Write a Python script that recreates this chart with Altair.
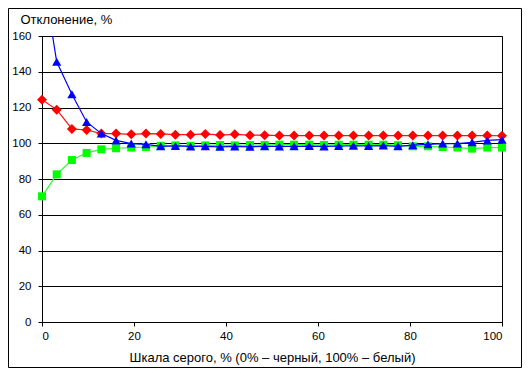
import altair as alt
import pandas as pd

# Gray scale steps, %
x_vals = [0, 3.2, 6.5, 9.7, 12.9, 16.1, 19.4, 22.6, 25.8, 29.0, 32.3, 35.5,
          38.7, 41.9, 45.2, 48.4, 51.6, 54.8, 58.1, 61.3, 64.5, 67.7, 71.0,
          74.2, 77.4, 80.6, 83.9, 87.1, 90.3, 93.5, 96.8, 100]

red_vals = [124.4, 118.8, 108.0, 107.4, 105.4, 105.4, 105.0, 105.4, 105.2,
            104.8, 104.8, 105.2, 104.6, 105.0, 104.5, 104.5, 104.3, 104.3,
            104.3, 104.3, 104.3, 104.3, 104.3, 104.3, 104.3, 104.3, 104.3,
            104.3, 104.3, 104.3, 104.3, 104.2]

blue_vals = [197.0, 145.6, 127.4, 111.9, 105.4, 101.6, 99.8, 99.4, 98.3,
             98.5, 98.2, 98.3, 98.0, 98.2, 98.0, 98.3, 98.2, 98.3, 98.4,
             98.2, 98.4, 98.6, 98.5, 98.7, 98.3, 98.9, 99.4, 99.8, 99.8,
             100.5, 101.6, 102.0]

green_vals = [70.3, 82.6, 90.6, 94.6, 96.6, 97.2, 97.6, 97.9, 98.6, 98.8,
              98.6, 98.8, 99.0, 98.8, 99.0, 99.0, 99.2, 99.2, 99.2, 99.0,
              99.2, 99.2, 99.2, 99.2, 98.9, 98.3, 98.3, 97.9, 97.6, 97.0,
              97.6, 97.6]

x_ticks = [0, 20, 40, 60, 80, 100]
y_ticks = [0, 20, 40, 60, 80, 100, 120, 140, 160]

x_title = "Шкала серого, % (0% – черный, 100% – белый)"
y_title = "Отклонение,  %"

FONT = "Liberation Sans"

x_enc = alt.X("x:Q",
              scale=alt.Scale(domain=[0, 100], nice=False, zero=False),
              axis=alt.Axis(values=x_ticks, grid=False, title=x_title,
                            tickSize=4, labelPadding=4, titleY=35,
                            titleBaseline="middle"))
y_enc = alt.Y("y:Q",
              scale=alt.Scale(domain=[0, 160], nice=False),
              axis=alt.Axis(values=y_ticks, grid=True, gridColor="black",
                            gridOpacity=1, gridWidth=1, title=y_title,
                            tickSize=4, labelPadding=7, titleAngle=0,
                            titleX=-22, titleY=-17, titleAlign="left",
                            titleBaseline="middle"))


def series(vals, color, line_color, shape, size):
    df = pd.DataFrame({"x": x_vals, "y": vals})
    base = alt.Chart(df)
    line = base.mark_line(color=line_color, strokeWidth=1.2, clip=True).encode(x=x_enc, y=y_enc)
    pts = base.transform_filter(alt.datum.y <= 160).mark_point(
        shape=shape, size=size, filled=True, color=color, opacity=1
    ).encode(x=x_enc, y=y_enc)
    return line + pts


red = series(red_vals, "#FF0000", "#FF1010", "diamond", 100)
green = series(green_vals, "#00FF00", "#30FF30", "square", 64)
blue = series(blue_vals, "#0000FF", "#0000FF", "triangle-up", 85)

border = alt.Chart(pd.DataFrame({"a": [0]})).mark_rect(
    fill="transparent", stroke="black", strokeWidth=1, clip=False
).encode(x=alt.value(-33.5), x2=alt.value(479.5),
         y=alt.value(-27.5), y2=alt.value(331.5))

chart = alt.layer(red, green, blue, border).properties(
    width=460, height=286,
    autosize=alt.AutoSizeParams(type="none"),
    padding={"left": 34, "top": 28, "right": 20, "bottom": 46},
).configure_view(
    stroke="black", strokeWidth=1
).configure_axis(
    labelFont=FONT, titleFont=FONT, labelFontSize=11.5, titleFontSize=13,
    titleFontWeight="normal", labelColor="black", titleColor="black",
    domainColor="black", tickColor="black", domainWidth=1, tickWidth=1
)

chart.save("out.html", embed_options={"renderer": "svg", "actions": False})
